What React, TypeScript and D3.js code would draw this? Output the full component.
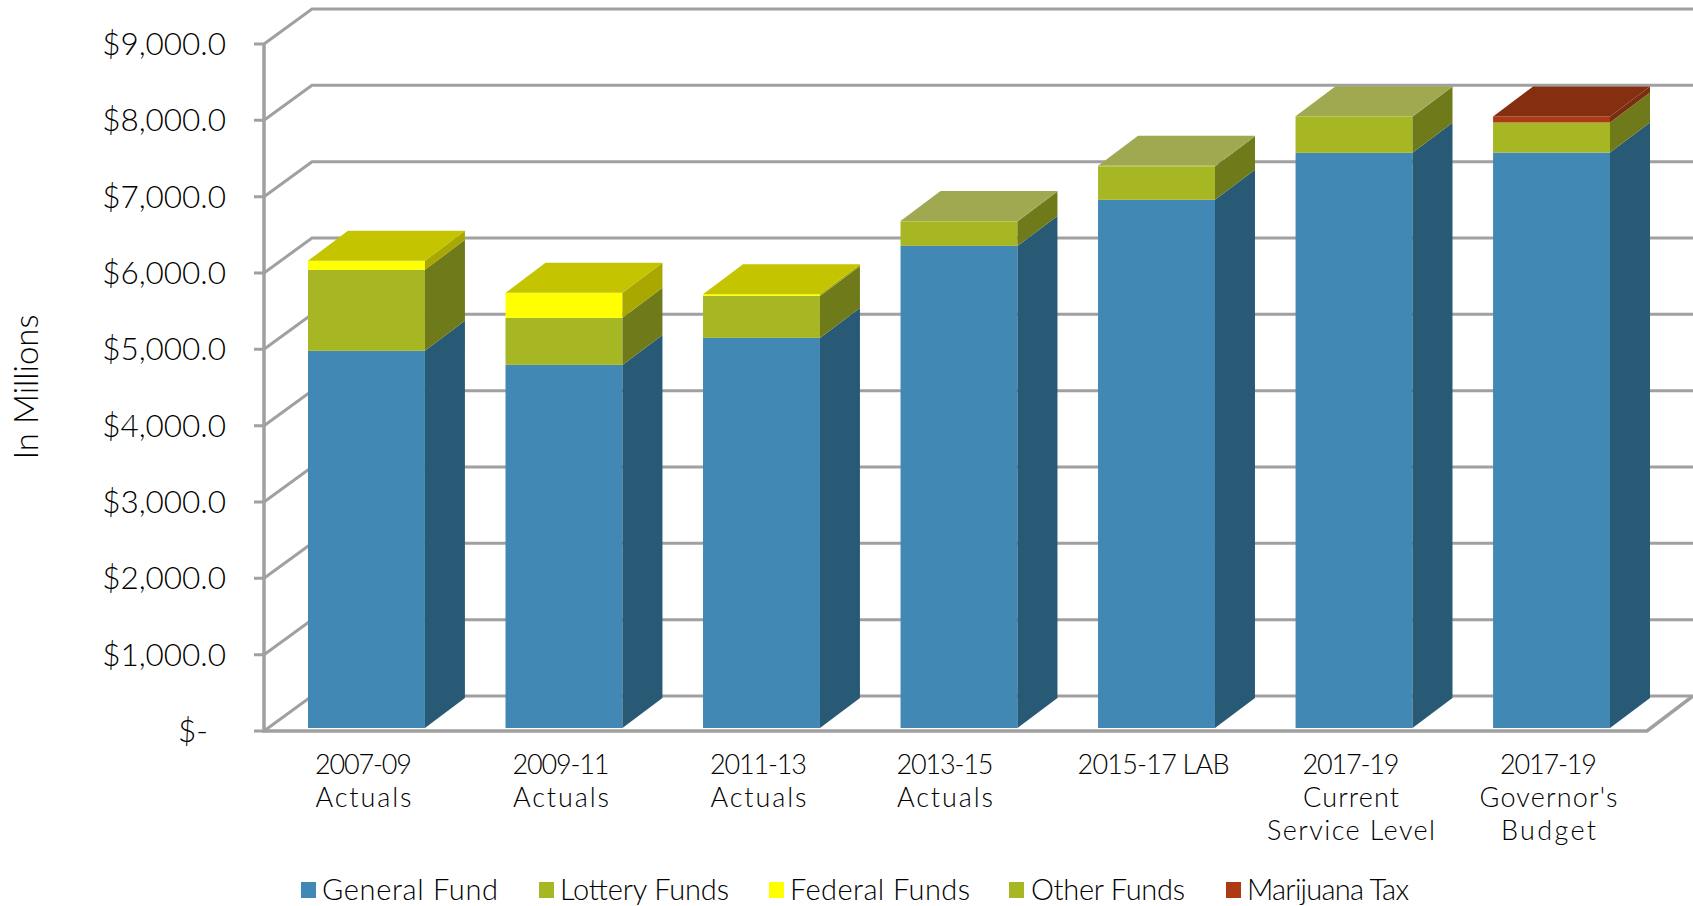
import React from "react";
import * as d3 from "d3";

const categories = ["2007-09|Actuals", "2009-11|Actuals", "2011-13|Actuals", "2013-15|Actuals", "2015-17 LAB", "2017-19|Current|Service Level", "2017-19|Governor's|Budget"];
const labelNudge = [0, 0, 0, -11, 0, 0, 0];
const labelWidths = [[97, 96], [97, 96], [97, 96], [97, 96], [152], [97, 96, 168], [97, 138, 95]];
const seriesNames = ["General Fund", "Lottery Funds", "Federal Funds", "Other Funds", "Marijuana Tax"];
const generalFund = [4948, 4764, 5118, 6325, 6929, 7546, 7550];
const lotteryFunds = [1063, 617, 551, 320, 438, 472, 394];
const federalFunds = [118, 328, 22, 0, 0, 0, 0];
const otherFunds = [0, 0, 0, 8, 8, 8, 0];
const marijuanaTax = [0, 0, 0, 0, 0, 0, 79];
const tickValues = [0, 1000, 2000, 3000, 4000, 5000, 6000, 7000, 8000, 9000];
const frontColors = ["#4188B4", "#A6B723", "#FFFF00", "#A6B723", "#AD3A14"];
const sideColors = ["#285A75", "#6F7A1A", "#A8A800", "#6F7A1A", "#7A2E10"];
const topColors = ["#4F96C0", "#A0A950", "#C4C400", "#A0A950", "#862E10"];
const legendX = [301, 539, 769, 1009, 1226];
const legendTextX = [322, 560, 790, 1031, 1247];
const legendTextW = [176, 169, 180, 154, 162];

const FONT = "Lato, 'Open Sans', sans-serif";
const depthX = 40, depthY = 30;
const wallDX = 48, wallDY = 35;
const gridColor = "#A0A0A0";

const y = d3.scaleLinear().domain([0, 9000]).range([731, 44]);
const barY = d3.scaleLinear().domain([0, 9000]).range([728, 42]);
const x = d3.scaleBand<string>().domain(categories).range([308, 1610]).paddingInner(0.408).paddingOuter(0);
const rows = categories.map((c, i) => ({ c, a: generalFund[i], b: lotteryFunds[i], d: federalFunds[i], e: otherFunds[i], f: marijuanaTax[i] }));
const keys = ["a", "b", "d", "e", "f"];
const stacks = d3.stack<any>().keys(keys)(rows);
const line = d3.line();

function axisLabel(v: number) {
  return v === 0 ? "$-" : "$" + d3.format(",.1f")(v);
}

export default function App() {
  return (
    <svg width={1693} height={906} style={{ position: "absolute", left: 0, top: 0, background: "#fff", fontFamily: FONT, fontWeight: 300 }}>
      {tickValues.map((v) => (
        <path key={v} d={line([[254, y(v)], [264, y(v)], [264 + wallDX, y(v) - wallDY], [1693, y(v) - wallDY]])!} fill="none" stroke={gridColor} strokeWidth={3} />
      ))}
      <path d={line([[264, y(9000)], [264, y(0)], [1647, y(0)], [1693, y(0) - wallDY]])!} fill="none" stroke={gridColor} strokeWidth={3.5} />
      {tickValues.map((v) => (
        <text key={v} x={v === 0 ? 208 : 226} y={y(v) + 11} textAnchor="end" fontSize={31.5} fill="#000">{axisLabel(v)}</text>
      ))}
      <text transform="translate(38,387) rotate(-90)" textAnchor="middle" fontSize={33} fill="#000">In Millions</text>
      {categories.map((c, i) => {
        const x0 = x(c)!, w = x.bandwidth();
        const segs = stacks.map((s, k) => ({ k, lo: s[i][0], hi: s[i][1] })).filter((s) => s.hi > s.lo);
        const top = segs[segs.length - 1];
        return (
          <g key={c}>
            {segs.map((s) => (
              <g key={s.k}>
                <rect x={x0} y={barY(s.hi)} width={w} height={barY(s.lo) - barY(s.hi)} fill={frontColors[s.k]} />
                <path d={line([[x0 + w, barY(s.lo)], [x0 + w + depthX, barY(s.lo) - depthY], [x0 + w + depthX, barY(s.hi) - depthY], [x0 + w, barY(s.hi)]])! + "Z"} fill={sideColors[s.k]} />
              </g>
            ))}
            <path d={line([[x0, barY(top.hi)], [x0 + depthX, barY(top.hi) - depthY], [x0 + w + depthX, barY(top.hi) - depthY], [x0 + w, barY(top.hi)]])! + "Z"} fill={topColors[top.k]} />
            {c.split("|").map((t, j) => (
              <text key={j} x={x0 + w / 2 - 3 + labelNudge[i]} y={774 + j * 33} textAnchor="middle" fontSize={27} textLength={labelWidths[i][j]} lengthAdjust="spacing" fill="#000">{t}</text>
            ))}
          </g>
        );
      })}
      {seriesNames.map((n, i) => (
        <g key={n}>
          <rect x={legendX[i]} y={882} width={15} height={16} fill={frontColors[i]} />
          <text x={legendTextX[i]} y={900} fontSize={29} textLength={legendTextW[i]} lengthAdjust="spacing" fill="#000">{n}</text>
        </g>
      ))}
    </svg>
  );
}
